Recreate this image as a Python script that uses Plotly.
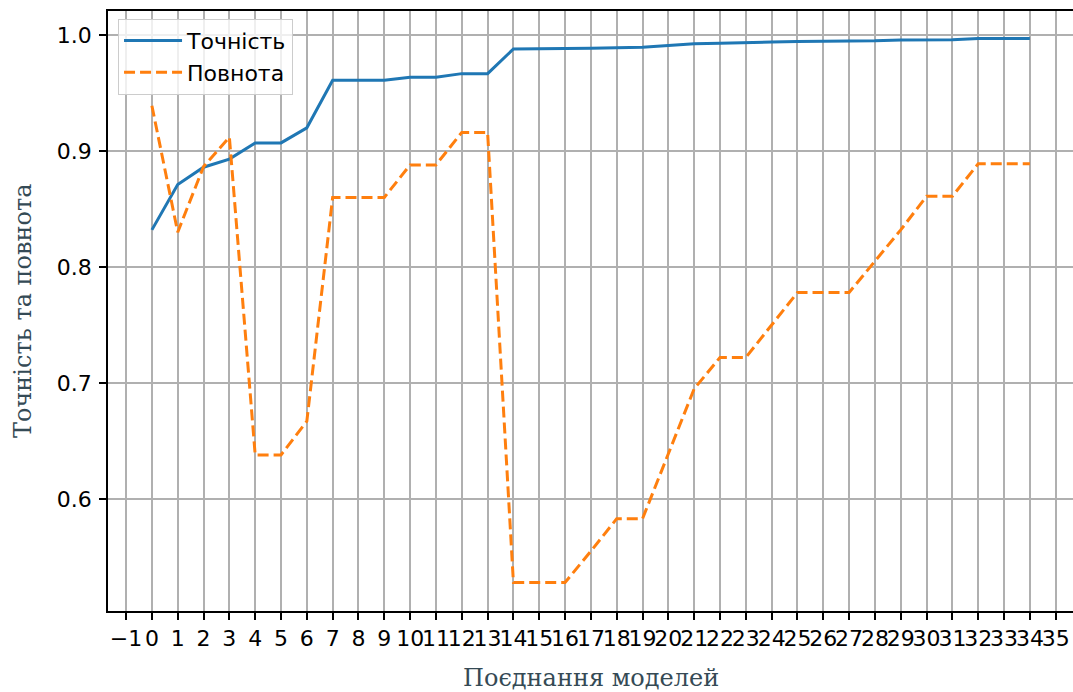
import plotly.graph_objects as go

model_combo = list(range(35))
precision = [0.832, 0.871, 0.886, 0.893, 0.907, 0.907, 0.920, 0.961, 0.961, 0.961,
             0.9635, 0.9635, 0.9667, 0.9667, 0.988, 0.988, 0.988, 0.9885, 0.989, 0.9895,
             0.991, 0.9925, 0.993, 0.9932, 0.994, 0.9945, 0.9945, 0.9945, 0.995, 0.9958,
             0.996, 0.996, 0.997, 0.997, 0.997]
recall = [0.939, 0.830, 0.8865, 0.912, 0.638, 0.638, 0.667, 0.860, 0.860, 0.860,
          0.888, 0.888, 0.916, 0.916, 0.528, 0.528, 0.528, 0.555, 0.583, 0.583,
          0.639, 0.695, 0.722, 0.722, 0.750, 0.778, 0.778, 0.778, 0.805, 0.832,
          0.861, 0.861, 0.889, 0.889, 0.889]

x_tick_vals = list(range(-1, 36))
x_tick_text = [("\u2212" + str(-v)) if v < 0 else str(v) for v in x_tick_vals]
y_tick_vals = [0.6, 0.7, 0.8, 0.9, 1.0]
y_tick_text = ["0.6", "0.7", "0.8", "0.9", "1.0"]

fig = go.Figure()
fig.add_trace(go.Scatter(x=model_combo, y=precision, mode="lines", name="Точність",
                         line=dict(color="#1f77b4", width=3)))
fig.add_trace(go.Scatter(x=model_combo, y=recall, mode="lines", name="Повнота",
                         line=dict(color="#ff7f0e", width=3, dash="11px,5px")))

axis_common = dict(showline=True, linecolor="black", linewidth=1.6,
                   ticks="outside", ticklen=7, tickwidth=1.6, tickcolor="black",
                   showgrid=True, gridcolor="#b0b0b0", gridwidth=1.6, zeroline=False,
                   tickfont=dict(family="DejaVu Sans", size=22, color="black"))

fig.update_xaxes(range=[-1.7, 35.67], tickmode="array", tickvals=x_tick_vals,
                 ticktext=x_tick_text, tickangle=0, mirror=True, **axis_common)
fig.update_yaxes(range=[0.5034, 1.0207], tickmode="array", tickvals=y_tick_vals,
                 ticktext=y_tick_text, ticklabelstandoff=3, mirror=False, **axis_common)

fig.update_layout(
    width=1073, height=692,
    margin=dict(l=108, r=0, t=11, b=81),
    plot_bgcolor="white", paper_bgcolor="white",
    showlegend=True,
    legend=dict(x=0.0104, y=0.987, xanchor="left", yanchor="top",
                bgcolor="rgba(255,255,255,0.8)", bordercolor="#cccccc", borderwidth=1,
                font=dict(family="DejaVu Sans", size=22, color="black"),
                tracegroupgap=0, itemwidth=58),
    annotations=[
        dict(text="Поєднання моделей", xref="paper", yref="paper", x=0.5, y=0,
             yshift=-67, showarrow=False, xanchor="center", yanchor="middle",
             font=dict(family="DejaVu Serif", size=24, color="#354a55")),
        dict(text="Точність та повнота", xref="paper", yref="paper", x=0, y=0.5,
             xshift=-85, showarrow=False, xanchor="center", yanchor="middle", textangle=-90,
             font=dict(family="DejaVu Serif", size=24, color="#354a55")),
    ],
)

fig.write_html("out.html",
               config={"displayModeBar": False},
               post_script="document.body.style.margin='0';document.body.style.overflow='hidden';")
